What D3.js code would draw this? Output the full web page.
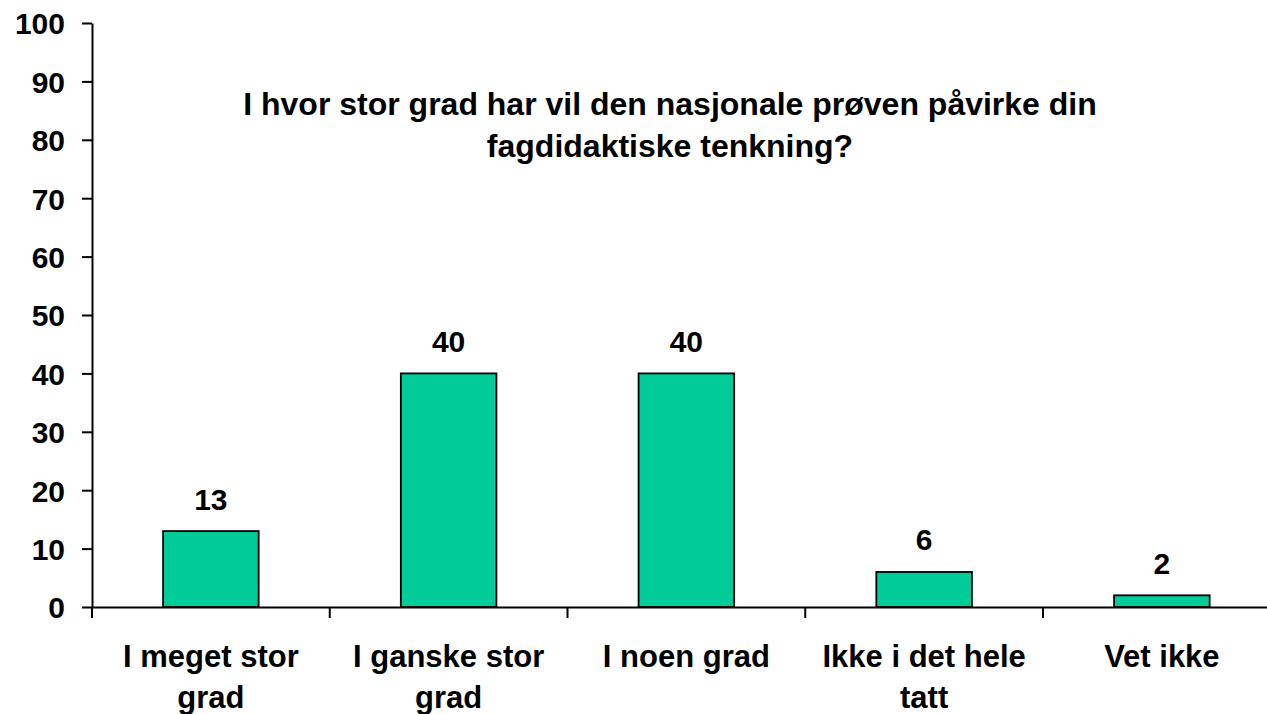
<!DOCTYPE html>
<html>
<head>
<meta charset="utf-8">
<script src="https://cdn.jsdelivr.net/npm/d3@7"></script>
<style>
  body { margin: 0; background: #fff; }
  svg text { font-family: "Liberation Sans", Arial, sans-serif; font-weight: bold; fill: #000; }
</style>
</head>
<body>
<div id="chart"></div>
<script>
// chart data
const categories = ["I meget stor grad", "I ganske stor grad", "I noen grad", "Ikke i det hele tatt", "Vet ikke"];
const values = [13, 40, 40, 6, 2];
const yTicks = [0, 10, 20, 30, 40, 50, 60, 70, 80, 90, 100];
const titleLines = ["I hvor stor grad har vil den nasjonale prøven påvirke din", "fagdidaktiske tenkning?"];

const W = 1267, H = 714;

const svg = d3.select("#chart").append("svg")
    .attr("width", W)
    .attr("height", H);

// scales
const x = d3.scaleBand()
    .domain(categories)
    .range([92, 92 + 5 * 237.75])
    .padding(0);

const y = d3.scaleLinear()
    .domain([0, 100])
    .range([607, 23]);

const barW = x.bandwidth() * 0.402;

// y axis
const yAxis = svg.append("g")
    .attr("transform", "translate(92,0)")
    .call(d3.axisLeft(y).tickValues(yTicks).tickSize(10).tickPadding(17).tickSizeOuter(0));
yAxis.select(".domain").attr("stroke", "#000").attr("stroke-width", 2);
yAxis.selectAll(".tick line").attr("stroke", "#000").attr("stroke-width", 2);
yAxis.selectAll(".tick text")
    .style("font-size", "30px")
    .attr("dy", "0.36em");

// bars
svg.selectAll(".bar")
    .data(values)
    .enter().append("rect")
    .attr("class", "bar")
    .attr("x", (d, i) => x(categories[i]) + (x.bandwidth() - barW) / 2)
    .attr("y", d => y(d))
    .attr("width", barW)
    .attr("height", d => y(0) - y(d))
    .attr("fill", "#00CC99")
    .attr("stroke", "#000")
    .attr("stroke-width", 1.8);

// x axis (drawn after bars so the baseline sits on top)
const xAxis = svg.append("g")
    .attr("transform", "translate(0," + y(0) + ")")
    .call(d3.axisBottom(x).tickSize(0).tickFormat(""));
xAxis.select(".domain").attr("stroke", "#000").attr("stroke-width", 2);

// tick marks at category boundaries
const bounds = categories.map(c => x(c));
svg.selectAll(".xtick")
    .data(bounds)
    .enter().append("line")
    .attr("class", "xtick")
    .attr("x1", d => d).attr("x2", d => d)
    .attr("y1", y(0)).attr("y2", y(0) + 11)
    .attr("stroke", "#000")
    .attr("stroke-width", 2);

// category labels, wrapped
const catLabels = svg.selectAll(".cat")
    .data(categories)
    .enter().append("text")
    .attr("class", "cat")
    .attr("text-anchor", "middle")
    .style("font-size", "31px")
    .attr("x", d => x(d) + x.bandwidth() / 2)
    .attr("y", 667)
    .text(d => d);

function wrap(sel, maxW) {
  sel.each(function() {
    const t = d3.select(this);
    const words = t.text().split(" ");
    const cx = t.attr("x");
    t.text(null);
    let line = [];
    let tspan = t.append("tspan").attr("x", cx).attr("dy", 0);
    words.forEach(w => {
      line.push(w);
      tspan.text(line.join(" "));
      if (tspan.node().getComputedTextLength() > maxW && line.length > 1) {
        line.pop();
        tspan.text(line.join(" "));
        line = [w];
        tspan = t.append("tspan").attr("x", cx).attr("dy", 40.5).text(w);
      }
    });
  });
}
catLabels.call(wrap, 225);

// value labels
svg.selectAll(".val")
    .data(values)
    .enter().append("text")
    .attr("class", "val")
    .attr("text-anchor", "middle")
    .style("font-size", "30px")
    .attr("x", (d, i) => x(categories[i]) + x.bandwidth() / 2)
    .attr("y", d => y(d) - 21.5)
    .text(d => d);

// title
svg.append("text")
    .attr("text-anchor", "middle")
    .style("font-size", "32px")
    .selectAll("tspan")
    .data(titleLines)
    .enter().append("tspan")
    .attr("x", 670)
    .attr("y", (d, i) => 115 + i * 42)
    .text(d => d);
</script>
</body>
</html>
